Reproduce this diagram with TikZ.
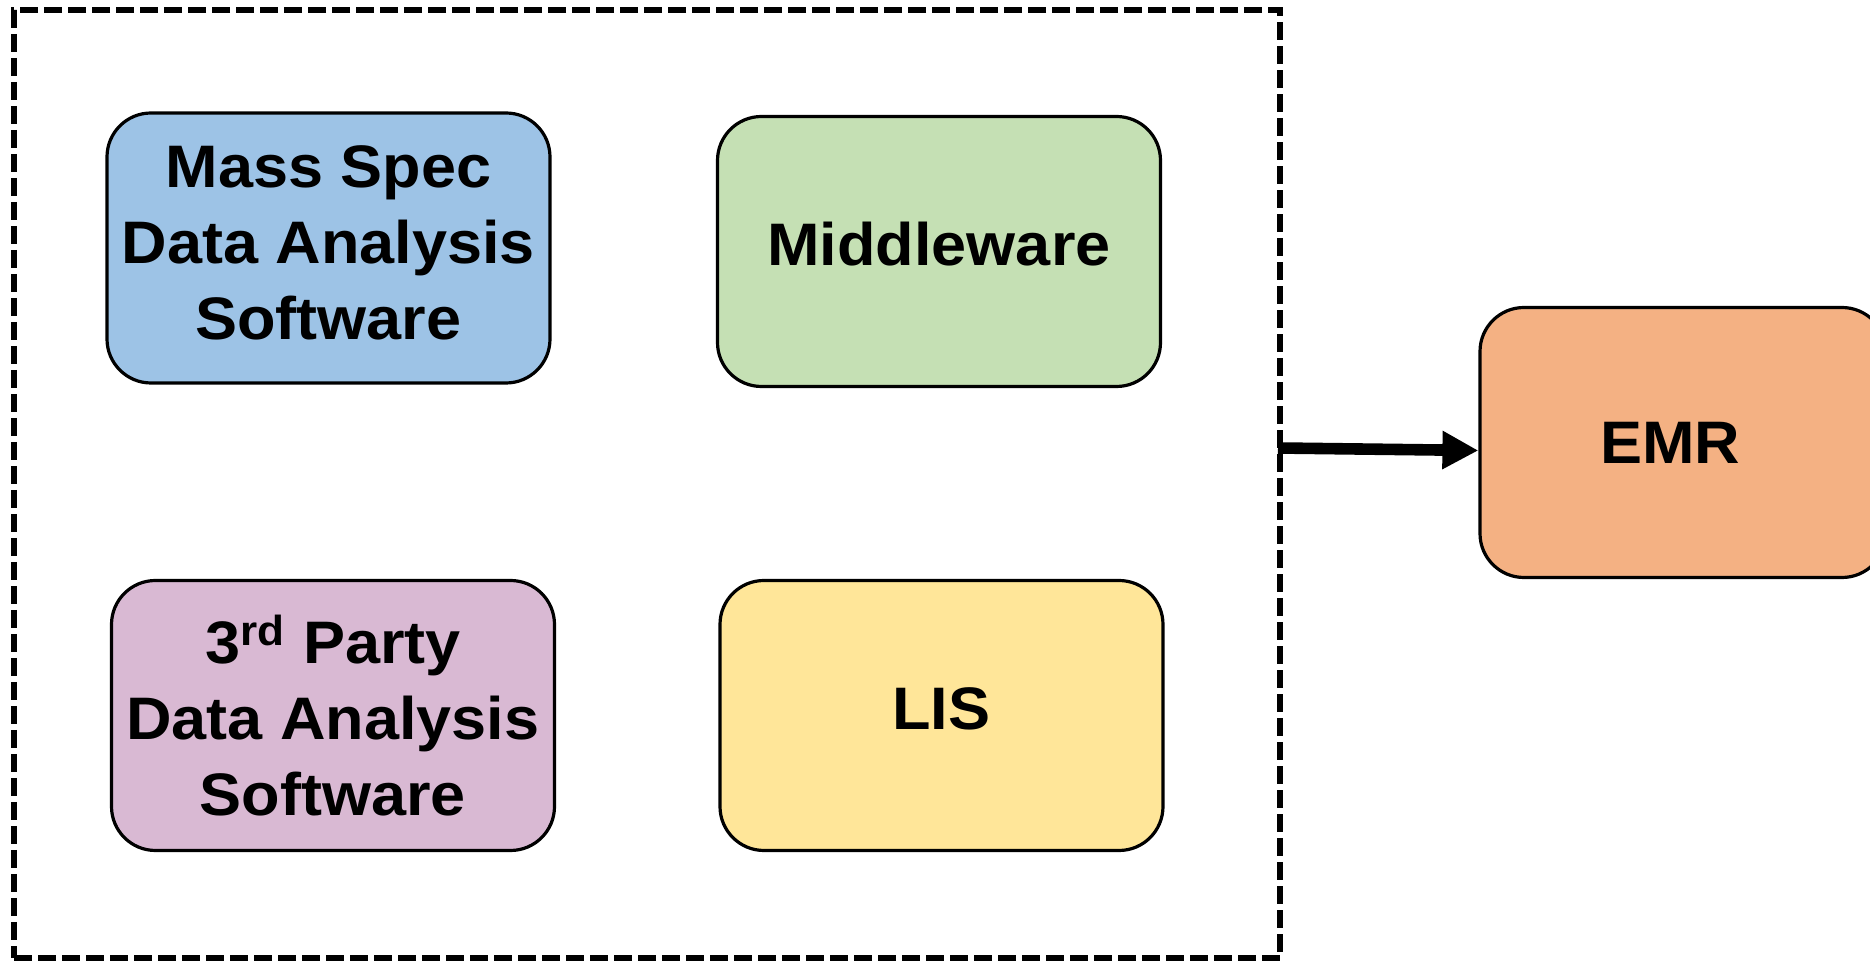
\documentclass[tikz,border=0pt]{standalone}
\usepackage{fontspec}
\setmainfont{Liberation Sans}[FakeStretch=1.05]
\usetikzlibrary{arrows.meta}
\definecolor{msblue}{HTML}{9DC3E6}
\definecolor{mwgreen}{HTML}{C5E0B4}
\definecolor{tppurple}{HTML}{D9B9D3}
\definecolor{lisyellow}{HTML}{FFE699}
\definecolor{emrorange}{HTML}{F4B183}
\begin{document}
\begin{tikzpicture}[x=0.5pt,y=-0.5pt,
  sysbox/.style={draw=black, line width=1.6pt, rounded corners=22pt,
    align=center, inner sep=0pt,
    font=\fontsize{30}{38}\selectfont\bfseries,
    minimum width=221.5pt, minimum height=135pt},
  groupframe/.style={draw=black, line width=2.7pt, dash pattern=on 9pt off 3pt,
    inner sep=0pt, minimum width=633pt, minimum height=474pt},
  feed/.style={line width=5.8pt, -{Triangle[length=18pt,width=18pt]}}]
\useasboundingbox (0,0) rectangle (1870,961);

% dashed group around the lab-side systems
\node[groupframe] (frame) at (647,484) {};

\node[sysbox, fill=msblue]    (ms)  at (328.5,248)   {\raisebox{2pt}{\begin{tabular}{@{}c@{}}Mass Spec\\Data Analysis\\Software\end{tabular}}};
\node[sysbox, fill=mwgreen]   (mw)  at (939,251.5)   {\raisebox{8pt}{Middleware}};
\node[sysbox, fill=tppurple]  (tp)  at (333,715.5)   {3\textsuperscript{rd} Party\\Data Analysis\\Software};
\node[sysbox, fill=lisyellow] (lis) at (941.5,715.5) {\raisebox{7pt}{LIS}};

\node[sysbox, fill=emrorange, minimum width=203pt] (emr) at (1683,442.5) {\hspace*{-13pt}\raisebox{-1pt}{EMR}};

\coordinate (tap) at (1278,448);
\draw[feed] (tap) -- ([yshift=-4pt]emr.west);
\end{tikzpicture}
\end{document}
